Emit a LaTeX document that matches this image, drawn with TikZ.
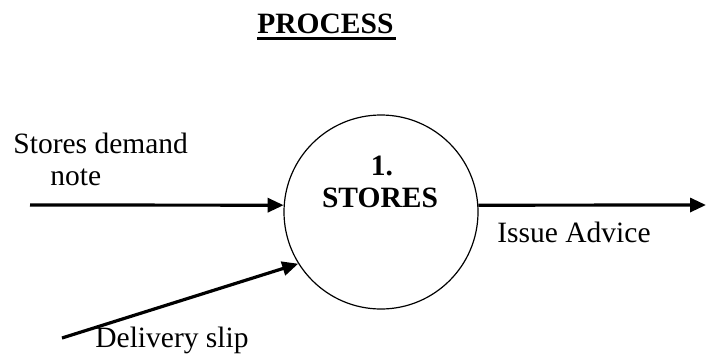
\documentclass[tikz,border=0pt]{standalone}
\usepackage{fontspec}
\setmainfont{Liberation Serif}
\usetikzlibrary{arrows.meta}

\tikzset{
  proc/.style={draw, circle, line width=0.6pt, minimum size=97pt, inner sep=0pt},
  flow/.style={line width=1.6pt, -{Triangle[length=8pt,width=7pt]}},
  lbl/.style={inner sep=0pt, anchor=base west},
}

\begin{document}
\fontsize{14.75}{15}\selectfont
\begin{tikzpicture}[x=0.5pt,y=-0.5pt]
\useasboundingbox (0,0) rectangle (706,354);

\node[lbl] (title) at (257,33) {\textbf{PROCESS}};
\draw[line width=1.1pt] (257,38.5) -- (396,38.5);

\node[proc] (stores) at (381,212) {};
\node[inner sep=0pt, anchor=base] (num) at (382,175) {\textbf{1.}};
\node[inner sep=0pt, anchor=base] (name) at (380,207) {\textbf{STORES}};

\coordinate (demand) at (30,205);
\coordinate (slip) at (62,338);
\coordinate (issue) at (706,205);

\draw[flow] (demand) -- (stores.176);
\draw[flow] (slip) -- (stores.212);
\draw[flow] (stores.4) -- (issue);

\node[lbl] (demandlbl) at (13,153) {Stores demand};
\node[lbl] (notelbl) at (50,185) {note};
\node[lbl] (issuelbl) at (497,242) {Issue Advice};
\node[lbl] (sliplbl) at (95,347) {Delivery slip};
\end{tikzpicture}
\end{document}
